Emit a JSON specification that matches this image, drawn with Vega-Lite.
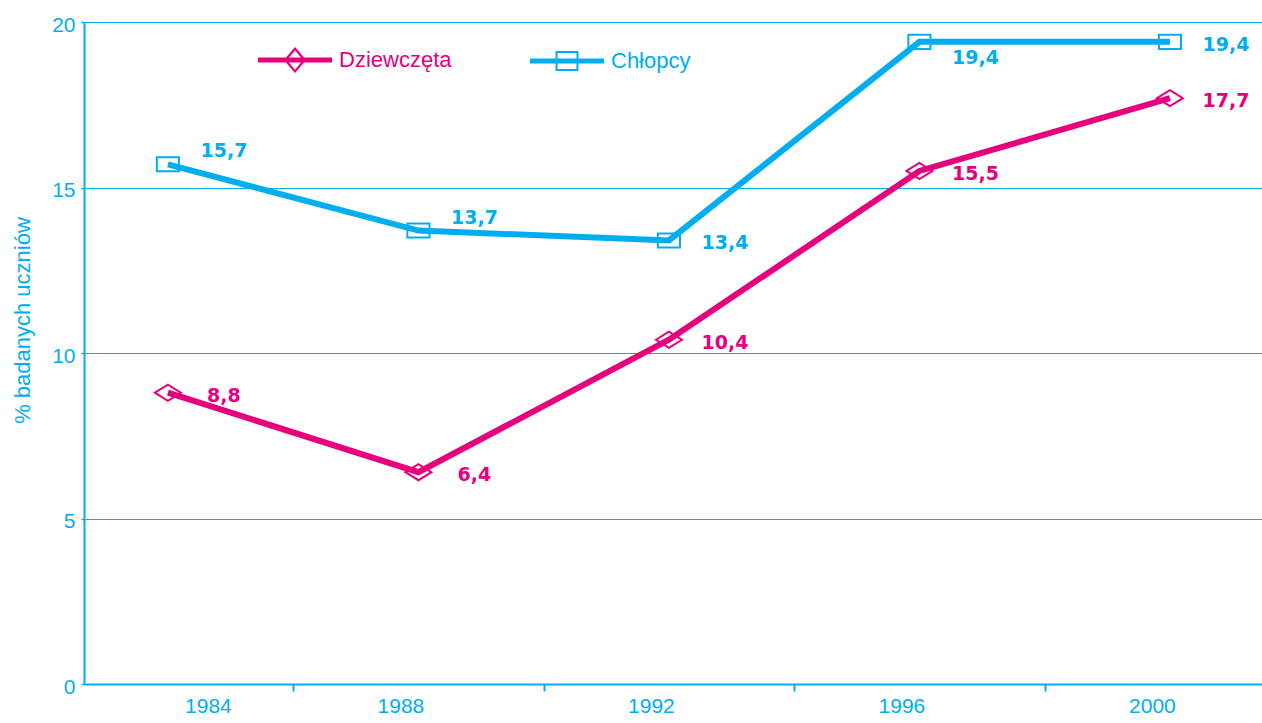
{
  "$schema": "https://vega.github.io/schema/vega-lite/v6.json",
  "width": 1178,
  "height": 662,
  "autosize": {"type": "none"},
  "padding": {"left": 84, "top": 22, "right": 0, "bottom": 39},
  "background": "white",
  "config": {
    "view": {"stroke": null},
    "locale": {"number": {"decimal": ",", "thousands": " ", "grouping": [3], "currency": ["", " zł"]}},
    "axis": {
      "labelFont": "Liberation Sans",
      "titleFont": "Liberation Sans",
      "labelColor": "#00AEEF",
      "titleColor": "#00AEEF",
      "domainColor": "#00AEEF",
      "tickColor": "#00AEEF",
      "gridColor": "#00AEEF",
      "gridOpacity": 1
    }
  },
  "data": {
    "values": [
      {"rok": 1984, "plec": "Dziewczęta", "wartosc": 8.8},
      {"rok": 1988, "plec": "Dziewczęta", "wartosc": 6.4},
      {"rok": 1992, "plec": "Dziewczęta", "wartosc": 10.4},
      {"rok": 1996, "plec": "Dziewczęta", "wartosc": 15.5},
      {"rok": 2000, "plec": "Dziewczęta", "wartosc": 17.7},
      {"rok": 1984, "plec": "Chłopcy", "wartosc": 15.7},
      {"rok": 1988, "plec": "Chłopcy", "wartosc": 13.7},
      {"rok": 1992, "plec": "Chłopcy", "wartosc": 13.4},
      {"rok": 1996, "plec": "Chłopcy", "wartosc": 19.4},
      {"rok": 2000, "plec": "Chłopcy", "wartosc": 19.4}
    ]
  },
  "encoding": {
    "x": {
      "field": "rok",
      "type": "quantitative",
      "scale": {"domain": [1982.66, 2001.47], "nice": false, "zero": false},
      "axis": {
        "values": [1984, 1986, 1988, 1990, 1992, 1994, 1996, 1998, 2000],
        "format": "d",
        "labelExpr": "datum.value % 4 == 0 ? datum.label : ''",
        "tickOpacity": {"condition": {"test": "datum.value % 4 == 0", "value": 0}, "value": 1},
        "tickSize": 7,
        "tickWidth": 2,
        "domainWidth": 2,
        "labelOffset": {"condition": {"test": "datum.value == 1984", "value": 40}, "value": -18},
        "labelFontSize": 21,
        "labelPadding": 4,
        "grid": false,
        "title": null,
        "labelOverlap": false,
        "labelFlush": false,
        "labelBound": false
      }
    },
    "y": {
      "field": "wartosc",
      "type": "quantitative",
      "scale": {"domain": [0, 20], "nice": false},
      "axis": {
        "values": [0, 5, 10, 15, 20],
        "grid": true,
        "gridWidth": 1,
        "domainWidth": 2,
        "tickSize": 3,
        "tickWidth": 1.5,
        "labelFontSize": 21,
        "labelPadding": 6,
        "labelOffset": 3,
        "title": "% badanych uczniów",
        "titleFontSize": 22,
        "titleFontWeight": "normal",
        "titleX": -62,
        "titleY": 298,
        "titleAngle": 270,
        "titleAlign": "center",
        "titleBaseline": "middle"
      }
    },
    "color": {
      "field": "plec",
      "type": "nominal",
      "scale": {"domain": ["Dziewczęta", "Chłopcy"], "range": ["#E6007E", "#00AEEF"]},
      "legend": {
        "orient": "none",
        "legendX": 174,
        "legendY": 1,
        "direction": "horizontal",
        "title": null,
        "padding": 0,
        "symbolSize": 5476,
        "labelFontSize": 22,
        "labelFont": "Liberation Sans",
        "labelOffset": 7,
        "columnPadding": 78,
        "encode": {
          "symbols": {
            "update": {
              "shape": {"signal": "datum.value == 'Dziewczęta' ? 'M-1,-0.068L1,-0.068L1,0.068L-1,0.068Z M0,-0.35L0.3,0L0,0.35L-0.3,0Z M0,-0.26L-0.22,0L0,0.26L0.22,0Z' : 'M-1,-0.068L1,-0.068L1,0.068L-1,0.068Z M-0.31,-0.27L0.31,-0.27L0.31,0.27L-0.31,0.27Z M-0.256,-0.216L-0.256,0.216L0.256,0.216L0.256,-0.216Z'"},
              "fill": {"scale": "color", "field": "value"},
              "stroke": {"value": "transparent"},
              "strokeWidth": {"value": 0},
              "opacity": {"value": 1},
              "size": {"value": 5476}
            }
          },
          "labels": {
            "update": {
              "fill": {"scale": "color", "field": "value"}
            }
          }
        }
      }
    }
  },
  "layer": [
    {
      "mark": {"type": "line", "strokeWidth": 6, "strokeCap": "butt", "strokeJoin": "miter"}
    },
    {
      "transform": [{"filter": "datum.plec == 'Dziewczęta'"}],
      "mark": {"type": "point", "filled": false, "strokeWidth": 2, "size": 676, "opacity": 1, "shape": "M-1,0L0,-0.62L1,0L0,0.62Z"}
    },
    {
      "transform": [{"filter": "datum.plec == 'Chłopcy'"}],
      "mark": {"type": "point", "filled": false, "strokeWidth": 2, "size": 676, "opacity": 1, "shape": "M-0.85,-0.54H0.85V0.54H-0.85Z"}
    },
    {
      "transform": [{"filter": "!(datum.plec == 'Chłopcy' && (datum.rok == 1984 || datum.rok == 1988 || datum.rok == 1996))"}],
      "mark": {"type": "text", "font": "DejaVu Sans", "fontWeight": "bold", "fontSize": 19, "align": "center", "baseline": "middle", "dx": 56, "dy": 3},
      "encoding": {"text": {"field": "wartosc", "type": "quantitative", "format": ".1f"}}
    },
    {
      "transform": [{"filter": "datum.plec == 'Chłopcy' && (datum.rok == 1984 || datum.rok == 1988)"}],
      "mark": {"type": "text", "font": "DejaVu Sans", "fontWeight": "bold", "fontSize": 19, "align": "center", "baseline": "middle", "dx": 56, "dy": -13},
      "encoding": {"text": {"field": "wartosc", "type": "quantitative", "format": ".1f"}}
    },
    {
      "transform": [{"filter": "datum.plec == 'Chłopcy' && datum.rok == 1996"}],
      "mark": {"type": "text", "font": "DejaVu Sans", "fontWeight": "bold", "fontSize": 19, "align": "center", "baseline": "middle", "dx": 56, "dy": 16},
      "encoding": {"text": {"field": "wartosc", "type": "quantitative", "format": ".1f"}}
    }
  ]
}
